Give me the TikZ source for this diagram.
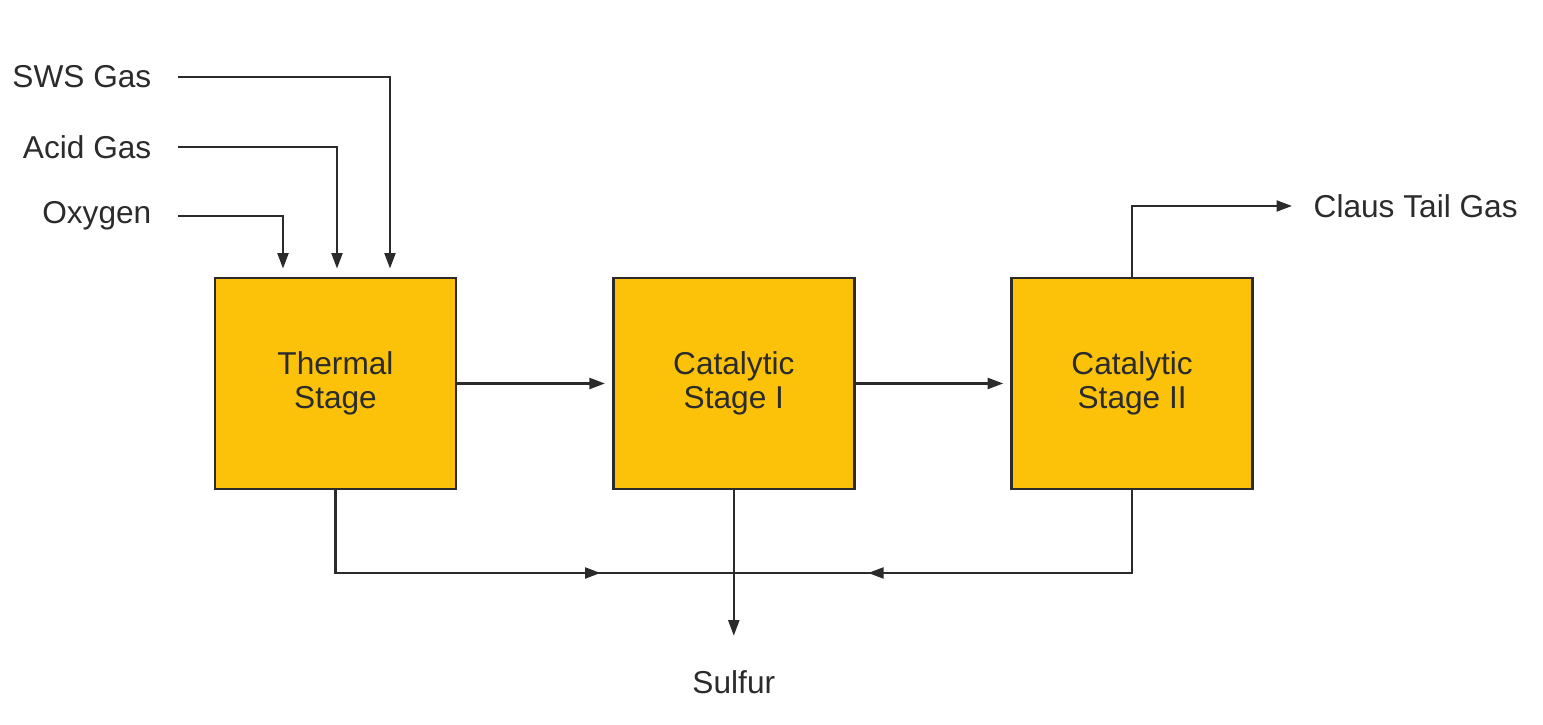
\documentclass[tikz,border=0pt]{standalone}
\usepackage{fontspec}
\setmainfont{Liberation Sans}
\usepackage{tikz}
\usetikzlibrary{positioning,arrows.meta,calc}
\usepackage{xcolor}
\definecolor{stagefill}{HTML}{FCC20A}
\definecolor{inkgray}{HTML}{2B2B2B}

\begin{document}
\begin{tikzpicture}[
  font=\fontsize{9}{9.6}\selectfont,
  stage/.style={draw=inkgray, line width=0.8pt, fill=stagefill, align=center,
    minimum width=2.41cm, minimum height=2.11cm, text=inkgray},
  lbl/.style={text=inkgray, inner sep=0pt},
  line/.style={draw=inkgray, line width=0.6pt},
  flow/.style={line, -{Triangle[length=1.55mm, width=1.1mm]}}
]
\useasboundingbox (0,0) rectangle (15.43,7.25);
% stages
\node[stage] (thermal) at (3.355,3.415) {Thermal\\Stage};
\node[stage, right=1.545cm of thermal] (cat1) {Catalytic\\Stage I};
\node[stage, right=1.545cm of cat1] (cat2) {Catalytic\\Stage II};
% feeds
\node[lbl, anchor=east] (sws)    at (1.52,6.48) {SWS Gas};
\node[lbl, anchor=east] (acid)   at (1.52,5.78) {Acid Gas};
\node[lbl, anchor=east] (oxygen) at (1.52,5.09) {Oxygen};
\draw[flow, shorten >=0.8mm] ([xshift=2.6mm]sws.east)    -| ([xshift=5.45mm]thermal.north);
\draw[flow, shorten >=0.8mm] ([xshift=2.6mm]acid.east)   -| ([xshift=0.15mm]thermal.north);
\draw[flow, shorten >=0.8mm] ([xshift=2.6mm]oxygen.east) -| ([xshift=-5.25mm]thermal.north);
% main train
\draw[flow, shorten >=0.7mm] (thermal) -- (cat1);
\draw[flow, shorten >=0.7mm] (cat1) -- (cat2);
\node[lbl, anchor=west] (tail) at (13.13,5.19) {Claus Tail Gas};
\draw[flow, shorten >=2.1mm] (cat2.north) |- (tail.west);
% sulfur collection
\coordinate (join) at (cat1.south |- 0,1.52);
\draw[line] (thermal.south) |- (join);
\draw[flow] (thermal.south |- join) -- ++(2.65,0);
\draw[line] (cat2.south) |- (join);
\draw[flow] (cat2.south |- join) -- ++(-2.64,0);
\node[lbl] (sulfur) at (cat1.south |- 0,0.43) {Sulfur};
\draw[flow, shorten >=3.4mm] (cat1.south) -- (sulfur);
\end{tikzpicture}
\end{document}
